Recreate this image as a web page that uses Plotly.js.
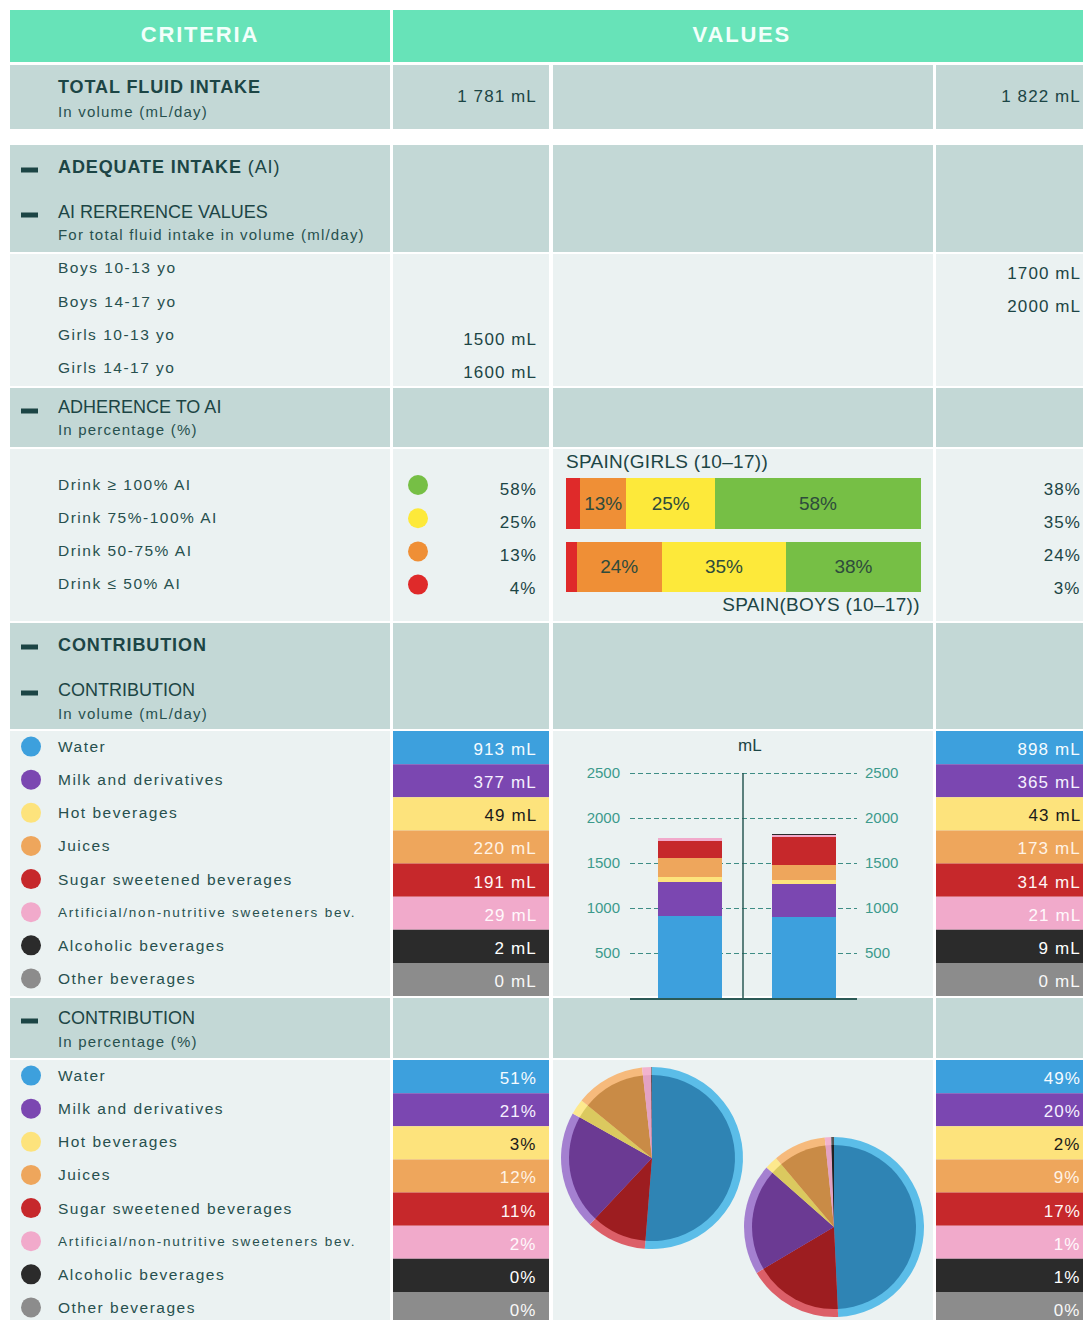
<!DOCTYPE html>
<html><head><meta charset="utf-8">
<script src="https://cdn.plot.ly/plotly-3.0.1.min.js"></script>
<style>body{margin:0;background:#fff}#chart{width:1083px;height:1320px}</style>
</head><body><div id="chart"></div>
<script>
// ---------------- DATA ----------------
const totalGirls = 1781;
const totalBoys = 1822;
const refLabels = ['Boys 10-13 yo','Boys 14-17 yo','Girls 10-13 yo','Girls 14-17 yo'];
const refGirls = [null, null, 1500, 1600];
const refBoys = [1700, 2000, null, null];
const adhLabels = ['Drink ≥ 100% AI','Drink 75%-100% AI','Drink 50-75% AI','Drink ≤ 50% AI'];
const adhGirls = [58, 25, 13, 4];
const adhBoys = [38, 35, 24, 3];
const adhGroups = ['SPAIN(GIRLS (10–17))','SPAIN(BOYS (10–17))'];
const bevLabels = ['Water','Milk and derivatives','Hot beverages','Juices','Sugar sweetened beverages','Artificial/non-nutritive sweeteners bev.','Alcoholic beverages','Other beverages'];
const volGirls = [913, 377, 49, 220, 191, 29, 2, 0];
const volBoys = [898, 365, 43, 173, 314, 21, 9, 0];
const pctGirls = [51, 21, 3, 12, 11, 2, 0, 0];
const pctBoys = [49, 20, 2, 9, 17, 1, 1, 0];
const volTicks = [500, 1000, 1500, 2000, 2500];

// ---------------- STYLE ----------------
const W = 1083, H = 1320;
const X = p => p / W, Y = p => 1 - p / H;
const FONT = '"Liberation Sans", Arial, Helvetica, sans-serif';
const GREEN = '#67e3b8', DARK = '#c3d8d6', LIGHT = '#ebf2f2';
const TXT = '#27504e', HEAD = '#1c4545';
const BEV = ['#3da0dd','#7b47b1','#fde37c','#eea65c','#c6282b','#f1aacb','#2b2b2b','#8c8c8c'];
const BEVTXT = ['#f5fbff','#f5f0ff','#1a1a1a','#fff3e6','#fff5f5','#fff8fb','#ffffff','#f8f8f8'];
const RING = ['#5bbde8','#a480d0','#fde98d','#f6ba7c','#dc5f68','#f2b3cf','#555555','#aaaaaa'];
const INNER = ['#2f84b4','#6b3a93','#dbc95f','#c98b46','#9d1d20','#e3a2c2','#222222','#777777'];
const ADH = ['#76bf45','#fde93a','#ef8f36','#df2a2a'];
const pieOrder = [0, 4, 1, 2, 3, 5, 6, 7];
const fmt = n => String(n).replace(/\B(?=(\d{3})+(?!\d))/g, ' ');

// ---------------- SHAPES ----------------
const shapes = [];
function rect(x0, y0, x1, y1, color, layer) {
  shapes.push({type:'rect', xref:'paper', yref:'paper', x0:X(x0), x1:X(x1), y0:Y(y1), y1:Y(y0),
    fillcolor:color, line:{width:0}, layer:layer || 'below'});
}
function circ(cx, cy, r, color) {
  shapes.push({type:'circle', xref:'paper', yref:'paper', x0:X(cx - r), x1:X(cx + r), y0:Y(cy + r), y1:Y(cy - r),
    fillcolor:color, line:{width:0}, layer:'below'});
}
function dash(y) { rect(21, y - 2.5, 38, y + 2.5, HEAD); }

const COLS = [[10, 390], [393, 549], [553, 933], [936, 1083]];
rect(10, 10, 390, 62, GREEN);
rect(393, 10, 1083, 62, GREEN);
const bands = [[65,129,DARK],[145,252,DARK],[254,386,LIGHT],[388,447,DARK],[449,621,LIGHT],[623,729,DARK],[731,996,LIGHT],[998,1058,DARK],[1060,1320,LIGHT]];
bands.forEach(b => COLS.forEach(c => rect(c[0], b[0], c[1], b[1], b[2])));

// ---------------- ANNOTATIONS ----------------
const annotations = [], spacing = [];
const LX = 55.5, VG = 538.5, VB = 1082.5;
function txt(x, y, text, o) {
  o = o || {};
  const a = o.anchor || 'left';
  annotations.push({xref:'paper', yref:'paper', x:X(x), y:Y(y), text:text, showarrow:false,
    xanchor:a, yanchor:'middle', align:a,
    font:{family:FONT, size:o.size || 15.5, color:o.color || TXT}});
  spacing.push(o.ls || 0);
}
const val = (x, y, t, c) => txt(x, y, t, {anchor:'right', size:17, color:c || HEAD, ls:1.1});

txt(200, 35, '<b>CRITERIA</b>', {anchor:'center', size:22, color:'#f2fffb', ls:1.8});
txt(742, 35, '<b>VALUES</b>', {anchor:'center', size:22, color:'#f2fffb', ls:1.8});

txt(LX, 87, '<b>TOTAL FLUID INTAKE</b>', {size:18, color:HEAD, ls:0.9});
txt(LX, 111, 'In volume (mL/day)', {size:15, ls:1.2});
val(VG, 96, fmt(totalGirls) + ' mL');
val(VB, 96, fmt(totalBoys) + ' mL');

dash(170); txt(LX, 167, '<b>ADEQUATE INTAKE</b> (AI)', {size:18, color:HEAD, ls:0.9});
dash(215); txt(LX, 212, 'AI RERERENCE VALUES', {size:18, color:HEAD});
txt(LX, 235, 'For total fluid intake in volume (ml/day)', {size:15, ls:1.2});

refLabels.forEach((l, i) => {
  const y = 268 + 33 * i;
  txt(LX, y, l, {ls:1.5});
  if (refGirls[i] !== null) val(VG, y + 5.5, refGirls[i] + ' mL');
  if (refBoys[i] !== null) val(VB, y + 5.5, refBoys[i] + ' mL');
});

dash(411); txt(LX, 407, 'ADHERENCE TO AI', {size:18, color:HEAD});
txt(LX, 430, 'In percentage (%)', {size:15, ls:1.2});
adhLabels.forEach((l, i) => {
  const y = 484 + 33.2 * i;
  txt(LX, y, l, {ls:1.5});
  circ(418, y + 1, 10, ADH[i]);
  val(VG, y + 5, adhGirls[i] + '%');
  val(VB, y + 5, adhBoys[i] + '%');
});
txt(564, 462, adhGroups[0], {size:19, color:HEAD, ls:0.3});
txt(922, 605, adhGroups[1], {anchor:'right', size:19, color:HEAD, ls:0.3});

dash(647); txt(LX, 645, '<b>CONTRIBUTION</b>', {size:18, color:HEAD, ls:0.9});
dash(693); txt(LX, 690, 'CONTRIBUTION', {size:18, color:HEAD});
txt(LX, 713, 'In volume (mL/day)', {size:15, ls:1.2});
txt(750, 745, 'mL', {anchor:'center', size:17, color:HEAD});

function bevRows(top, bottom, gVals, bVals, unit) {
  const h = (bottom - top) / 8;
  bevLabels.forEach((l, i) => {
    const y0 = top + h * i, y1 = y0 + h, yc = (y0 + y1) / 2;
    const small = l.length > 30;
    txt(LX, yc - 1, l, {size: small ? 13.5 : 15.5, ls: small ? 1.8 : 1.5});
    circ(31, yc - 1, 10, BEV[i]);
    rect(393, y0, 549, y1, BEV[i]);
    rect(936, y0, 1083, y1, BEV[i]);
    val(VG, yc + 2, gVals[i] + unit, BEVTXT[i]);
    val(VB, yc + 2, bVals[i] + unit, BEVTXT[i]);
  });
}
bevRows(731, 996, volGirls, volBoys, ' mL');

dash(1021); txt(LX, 1018, 'CONTRIBUTION', {size:18, color:HEAD});
txt(LX, 1041, 'In percentage (%)', {size:15, ls:1.2});
bevRows(1060, 1325, pctGirls, pctBoys, '%');

// center line of mL chart
shapes.push({type:'line', xref:'paper', yref:'paper', x0:X(743), x1:X(743), y0:Y(998), y1:Y(773),
  line:{color:'#2b5a56', width:1.5}, layer:'above'});

// ---------------- TRACES ----------------
const traces = [];
[3, 2, 1, 0].forEach(j => {
  traces.push({type:'bar', orientation:'h', x:[adhGirls[j], adhBoys[j]], y:[1, 0], width:0.8,
    xaxis:'x', yaxis:'y', marker:{color:ADH[j], line:{width:0}},
    text:[adhGirls[j] + '%', adhBoys[j] + '%'], textposition: j === 3 ? 'none' : 'inside',
    insidetextanchor:'middle', textfont:{family:FONT, size:19, color:'#2e4b3c'},
    hoverinfo:'skip', showlegend:false});
});
bevLabels.forEach((l, i) => {
  traces.push({type:'bar', x:[0, 1], y:[volGirls[i], volBoys[i]], width:0.56, xaxis:'x2', yaxis:'y2',
    marker:{color:BEV[i], line:{width:0}}, hoverinfo:'skip', showlegend:false, name:l});
});
traces.push({type:'scatter', x:[0], y:[0], xaxis:'x2', yaxis:'y3', mode:'markers',
  marker:{opacity:0}, hoverinfo:'skip', showlegend:false});
function pie(vals, colors, cx, cy, r) {
  return {type:'pie', values:pieOrder.map(i => vals[i]), labels:pieOrder.map(i => bevLabels[i]),
    marker:{colors:pieOrder.map(i => colors[i]), line:{width:0}}, sort:false, direction:'clockwise',
    rotation:0, textinfo:'none', hoverinfo:'skip', showlegend:false,
    domain:{x:[X(cx - r), X(cx + r)], y:[Y(cy + r), Y(cy - r)]}};
}
traces.push(pie(volGirls, RING, 652, 1158, 91));
traces.push(pie(volGirls, INNER, 652, 1158, 83));
traces.push(pie(volBoys, RING, 834, 1227, 90));
traces.push(pie(volBoys, INNER, 834, 1227, 82));

const tickFont = {family:FONT, size:15, color:'#3c9a8c'};
const yTop = 2540, pxPer = 225 / 2500; // 2500 sits at y=773, 0 at y=998
const layout = {
  width:W, height:H, margin:{l:0, r:0, t:0, b:0}, paper_bgcolor:'#ffffff', plot_bgcolor:'rgba(0,0,0,0)',
  barmode:'stack', showlegend:false, shapes:shapes, annotations:annotations,
  xaxis:{domain:[X(566), X(921)], range:[0, 100], visible:false},
  yaxis:{domain:[Y(600), Y(470)], range:[-0.52, 1.528], visible:false},
  xaxis2:{domain:[X(630), X(857)], range:[-0.526, 1.465], anchor:'y2', showgrid:false, zeroline:false,
    showticklabels:false, ticks:'', showline:true, linecolor:'#2b5a56', linewidth:2},
  yaxis2:{domain:[Y(998), Y(998 - yTop * pxPer)], range:[0, yTop], anchor:'x2', side:'left', tickvals:volTicks,
    showgrid:true, gridcolor:'#3e8d85', gridwidth:1, griddash:'5px,3px', zeroline:false, ticks:'',
    tickfont:tickFont, ticklabelstandoff:9, showline:false},
  yaxis3:{overlaying:'y2', anchor:'x2', side:'right', range:[0, yTop], tickvals:volTicks, showgrid:false,
    zeroline:false, ticks:'', tickfont:tickFont, ticklabelstandoff:7, showline:false}
};

Plotly.newPlot('chart', traces, layout, {staticPlot:true, displayModeBar:false}).then(gd => {
  gd.querySelectorAll('g.annotation').forEach(g => {
    const i = +g.getAttribute('data-index');
    if (spacing[i]) g.querySelectorAll('text').forEach(t => { t.style.letterSpacing = spacing[i] + 'px'; });
  });
});
</script></body></html>
